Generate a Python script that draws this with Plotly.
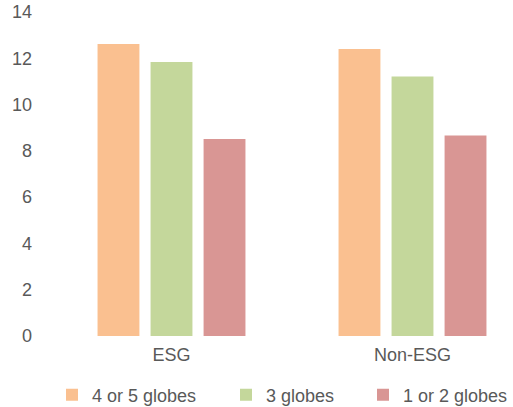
import plotly.graph_objects as go

categories = ["ESG", "Non-ESG"]
series_names = ["4 or 5 globes", "3 globes", "1 or 2 globes"]
values_4_5 = [12.62, 12.40]
values_3 = [11.84, 11.21]
values_1_2 = [8.51, 8.66]
y_ticks = [0, 2, 4, 6, 8, 10, 12, 14]

colors = ["#FAC090", "#C4D79B", "#D99694"]
font_family = "Liberation Sans, Arial, sans-serif"
text_color = "#595959"

FIG_W, FIG_H = 513, 407
PLOT_L, PLOT_T, PLOT_W, PLOT_H = 51, 12, 462, 324
legend_text_px = [92, 266, 403]
legend_ids = ["legend", "legend2", "legend3"]

fig = go.Figure()
for name, vals, col, lid in zip(series_names, [values_4_5, values_3, values_1_2], colors, legend_ids):
    fig.add_trace(go.Bar(x=categories, y=vals, name=name, legend=lid,
                         marker=dict(color=col, line=dict(width=0))))

legend_common = dict(orientation="h", yanchor="middle", y=-0.182, xanchor="left",
                     font=dict(size=18, color=text_color), itemwidth=30,
                     bgcolor="rgba(0,0,0,0)")
layout_legends = {}
for lid, px in zip(legend_ids, legend_text_px):
    layout_legends[lid] = dict(legend_common, x=(px - 40 - PLOT_L) / PLOT_W)

fig.update_layout(
    width=FIG_W, height=FIG_H,
    margin=dict(l=PLOT_L, r=FIG_W - PLOT_L - PLOT_W, t=PLOT_T,
                b=FIG_H - PLOT_T - PLOT_H, autoexpand=False),
    paper_bgcolor="white", plot_bgcolor="white",
    barmode="group", bargap=0.34, bargroupgap=0.21,
    font=dict(family=font_family, size=18, color=text_color),
    showlegend=True,
    xaxis=dict(range=[-0.5, -0.5 + PLOT_W / 241], showgrid=False, showline=False,
               zeroline=False, ticks="", ticklabelstandoff=6, automargin=False,
               tickfont=dict(size=18, color=text_color)),
    yaxis=dict(range=[0, 14], tickvals=y_ticks, showgrid=False, showline=False,
               zeroline=False, ticks="", ticklabelstandoff=18, automargin=False,
               ticklabeloverflow="allow",
               tickfont=dict(size=18, color=text_color)),
    **layout_legends,
)

# remove the default 8px page margin so the figure fills the window exactly
fig.write_html("out.html", config={"displayModeBar": False},
               post_script="document.body.style.margin='0';document.body.style.overflow='hidden';")
